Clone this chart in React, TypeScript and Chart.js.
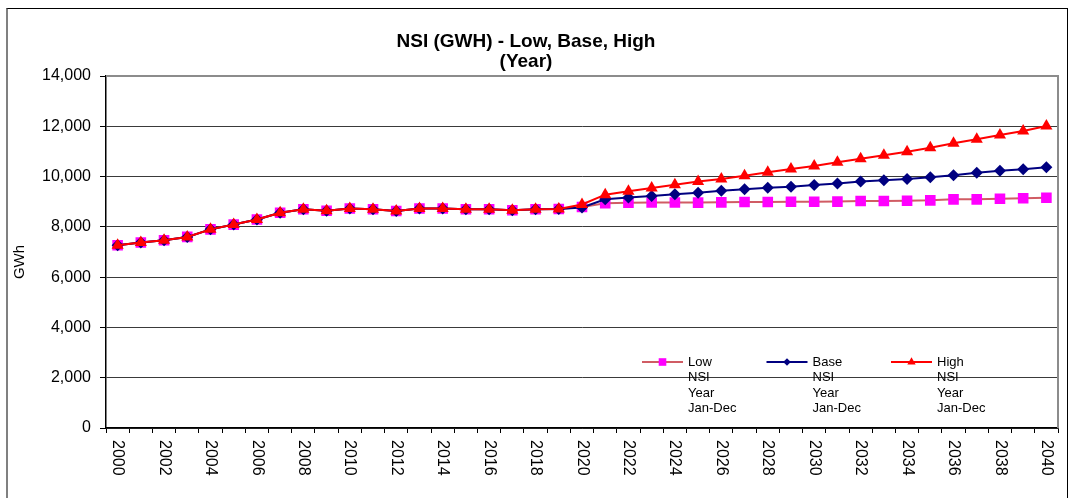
import React, { useEffect, useRef } from 'react';
import { Chart, registerables } from 'chart.js';

Chart.register(...registerables);

const FONT = '"Liberation Sans", Arial, Helvetica, sans-serif';

const years = [
  '2000', '2001', '2002', '2003', '2004', '2005', '2006', '2007', '2008', '2009',
  '2010', '2011', '2012', '2013', '2014', '2015', '2016', '2017', '2018', '2019',
  '2020', '2021', '2022', '2023', '2024', '2025', '2026', '2027', '2028', '2029',
  '2030', '2031', '2032', '2033', '2034', '2035', '2036', '2037', '2038', '2039',
  '2040',
];

const xTickLabels = [
  '2000', '2002', '2004', '2006', '2008', '2010', '2012', '2014', '2016', '2018',
  '2020', '2022', '2024', '2026', '2028', '2030', '2032', '2034', '2036', '2038', '2040',
];

const lowValues = [
  7270, 7380, 7470, 7600, 7900, 8090, 8290, 8560, 8700, 8640,
  8730, 8700, 8630, 8730, 8730, 8700, 8700, 8660, 8700, 8710,
  8790, 8940, 8960, 8970, 8970, 8965, 8975, 8990, 8990, 9000,
  9000, 9005, 9030, 9030, 9040, 9055, 9095, 9095, 9120, 9135,
  9160,
];

const baseValues = [
  7270, 7380, 7470, 7600, 7900, 8090, 8290, 8560, 8700, 8640,
  8730, 8700, 8630, 8730, 8730, 8700, 8700, 8660, 8700, 8710,
  8770, 9100, 9170, 9230, 9296, 9360, 9435, 9500, 9560, 9600,
  9666, 9720, 9800, 9850, 9905, 9970, 10050, 10155, 10235, 10290,
  10370,
];

const highValues = [
  7270, 7380, 7470, 7600, 7900, 8090, 8290, 8560, 8700, 8640,
  8730, 8700, 8630, 8730, 8730, 8700, 8700, 8660, 8700, 8710,
  8890, 9280, 9420, 9545, 9675, 9800, 9905, 10035, 10170, 10300,
  10420, 10570, 10713, 10845, 10990, 11150, 11325, 11483, 11655, 11814,
  12013,
];

const seriesNames = ['Low', 'Base', 'High'];
const legendLabels = [
  ['Low', 'NSI', 'Year', 'Jan-Dec'],
  ['Base', 'NSI', 'Year', 'Jan-Dec'],
  ['High', 'NSI', 'Year', 'Jan-Dec'],
];
const chartTitle = ['NSI (GWH) - Low, Base, High', '(Year)'];
const yAxisTitle = 'GWh';
const yMin = 0;
const yMax = 14000;
const yStep = 2000;

const seriesStyles = [
  { line: '#D05C64', marker: '#FF00FF', shape: 'rect', radius: 7.5, legendR: 3.8 },
  { line: '#000080', marker: '#000080', shape: 'rectRot', radius: 6, legendR: 3.8 },
  { line: '#FF0000', marker: '#FF0000', shape: 'triangle', radius: 7, legendR: 4.8 },
];

function drawMarker(ctx: CanvasRenderingContext2D, shape: string, x: number, y: number, r: number, color: string) {
  ctx.fillStyle = color;
  ctx.beginPath();
  if (shape === 'rect') {
    ctx.rect(x - r, y - r, 2 * r, 2 * r);
  } else if (shape === 'rectRot') {
    ctx.moveTo(x, y - r);
    ctx.lineTo(x + r, y);
    ctx.lineTo(x, y + r);
    ctx.lineTo(x - r, y);
    ctx.closePath();
  } else {
    ctx.moveTo(x, y - r);
    ctx.lineTo(x + r * 0.866, y + r / 2);
    ctx.lineTo(x - r * 0.866, y + r / 2);
    ctx.closePath();
  }
  ctx.fill();
}

const decorPlugin = {
  id: 'decor',
  beforeDatasetsDraw(chart: any) {
    const { ctx, chartArea: a } = chart;
    ctx.save();
    ctx.strokeStyle = '#8c8c8c';
    ctx.lineWidth = 2;
    ctx.beginPath();
    ctx.moveTo(a.left, a.top);
    ctx.lineTo(a.right, a.top);
    ctx.lineTo(a.right, a.bottom);
    ctx.stroke();
    ctx.restore();
  },
  afterDraw(chart: any) {
    const { ctx, chartArea: a } = chart;
    const xs = chart.scales.x;
    // rotated x labels (read top to bottom)
    ctx.save();
    ctx.fillStyle = '#000';
    ctx.font = `16px ${FONT}`;
    ctx.textAlign = 'left';
    ctx.textBaseline = 'middle';
    xTickLabels.forEach((lbl) => {
      const i = years.indexOf(lbl);
      const x = xs.getPixelForValue(i);
      ctx.save();
      ctx.translate(x, a.bottom + 12);
      ctx.rotate(Math.PI / 2);
      ctx.fillText(lbl, 0, 0);
      ctx.restore();
    });
    ctx.restore();

    // y axis title
    ctx.save();
    ctx.fillStyle = '#000';
    ctx.font = `15px ${FONT}`;
    ctx.textAlign = 'center';
    ctx.textBaseline = 'middle';
    ctx.translate(26, (a.top + a.bottom) / 2 + 10);
    ctx.rotate(-Math.PI / 2);
    ctx.fillText(yAxisTitle, 0, 0);
    ctx.restore();

    // legend inside plot area
    ctx.save();
    ctx.font = `13px ${FONT}`;
    ctx.textAlign = 'left';
    ctx.textBaseline = 'middle';
    const startX = a.right - 416;
    const lineY = a.bottom - 66;
    legendLabels.forEach((lines, k) => {
      const st = seriesStyles[k];
      const x0 = startX + k * 124.5;
      ctx.strokeStyle = st.line;
      ctx.lineWidth = 2;
      ctx.beginPath();
      ctx.moveTo(x0, lineY);
      ctx.lineTo(x0 + 41, lineY);
      ctx.stroke();
      drawMarker(ctx, st.shape, x0 + 20.5, lineY, st.legendR, st.marker);
      ctx.fillStyle = '#000';
      lines.forEach((t, j) => {
        ctx.fillText(t, x0 + 46, lineY + j * 15.5);
      });
    });
    ctx.restore();
  },
};

export default function App() {
  const canvasRef = useRef<HTMLCanvasElement | null>(null);

  useEffect(() => {
    if (!canvasRef.current) return;
    const seriesData = [lowValues, baseValues, highValues];
    const orders = [3, 2, 1];
    const chart = new Chart(canvasRef.current, {
      type: 'line',
      data: {
        labels: years,
        datasets: seriesNames.map((name, k) => ({
          label: name,
          data: seriesData[k],
          borderColor: seriesStyles[k].line,
          backgroundColor: seriesStyles[k].marker,
          borderWidth: 2,
          tension: 0,
          fill: false,
          pointStyle: seriesStyles[k].shape as any,
          pointRadius: seriesStyles[k].radius,
          pointBackgroundColor: seriesStyles[k].marker,
          pointBorderColor: seriesStyles[k].marker,
          pointBorderWidth: 0,
          order: orders[k],
        })),
      },
      options: {
        responsive: true,
        maintainAspectRatio: false,
        animation: false,
        layout: { padding: { left: 0, right: 10, top: 0, bottom: 0 } },
        plugins: {
          legend: { display: false },
          tooltip: { enabled: false },
          title: {
            display: true,
            text: chartTitle,
            color: '#000',
            font: { family: FONT, size: 19, weight: 'bold', lineHeight: '20px' },
            padding: { top: 24, bottom: 4 },
          },
        },
        scales: {
          x: {
            type: 'category',
            offset: true,
            afterFit: (scale: any) => {
              scale.height = 70;
            },
            grid: {
              display: true,
              drawOnChartArea: false,
              drawTicks: true,
              tickLength: 5,
              offset: true,
              color: '#000',
              tickColor: '#000',
              lineWidth: 1,
            },
            border: { display: true, color: '#000', width: 1.5 },
            ticks: { display: false },
          },
          y: {
            min: yMin,
            max: yMax,
            afterFit: (scale: any) => {
              scale.width = 112;
            },
            ticks: {
              stepSize: yStep,
              color: '#000',
              font: { family: FONT, size: 16 },
              padding: 9,
              callback: (v: any) => Number(v).toLocaleString('en-US'),
            },
            grid: {
              color: '#3a3a3a',
              tickColor: '#000',
              lineWidth: 1,
              drawTicks: true,
              tickLength: 6,
            },
            border: { display: true, color: '#000', width: 1.5 },
          },
        },
      },
      plugins: [decorPlugin],
    });
    return () => chart.destroy();
  }, []);

  return (
    <div style={{ position: 'fixed', left: 0, top: 0, width: 1070, height: 498, overflow: 'hidden', background: '#fff' }}>
      <div style={{ position: 'absolute', left: -6, top: 8, width: 1074, height: 490 }}>
        <canvas ref={canvasRef} />
      </div>
      <div
        style={{
          position: 'absolute',
          left: 6,
          top: 8,
          width: 1062,
          height: 520,
          borderTop: '1px solid #000',
          borderRight: '1px solid #000',
          borderLeft: '2px solid #808080',
          boxSizing: 'border-box',
          pointerEvents: 'none',
        }}
      />
    </div>
  );
}
